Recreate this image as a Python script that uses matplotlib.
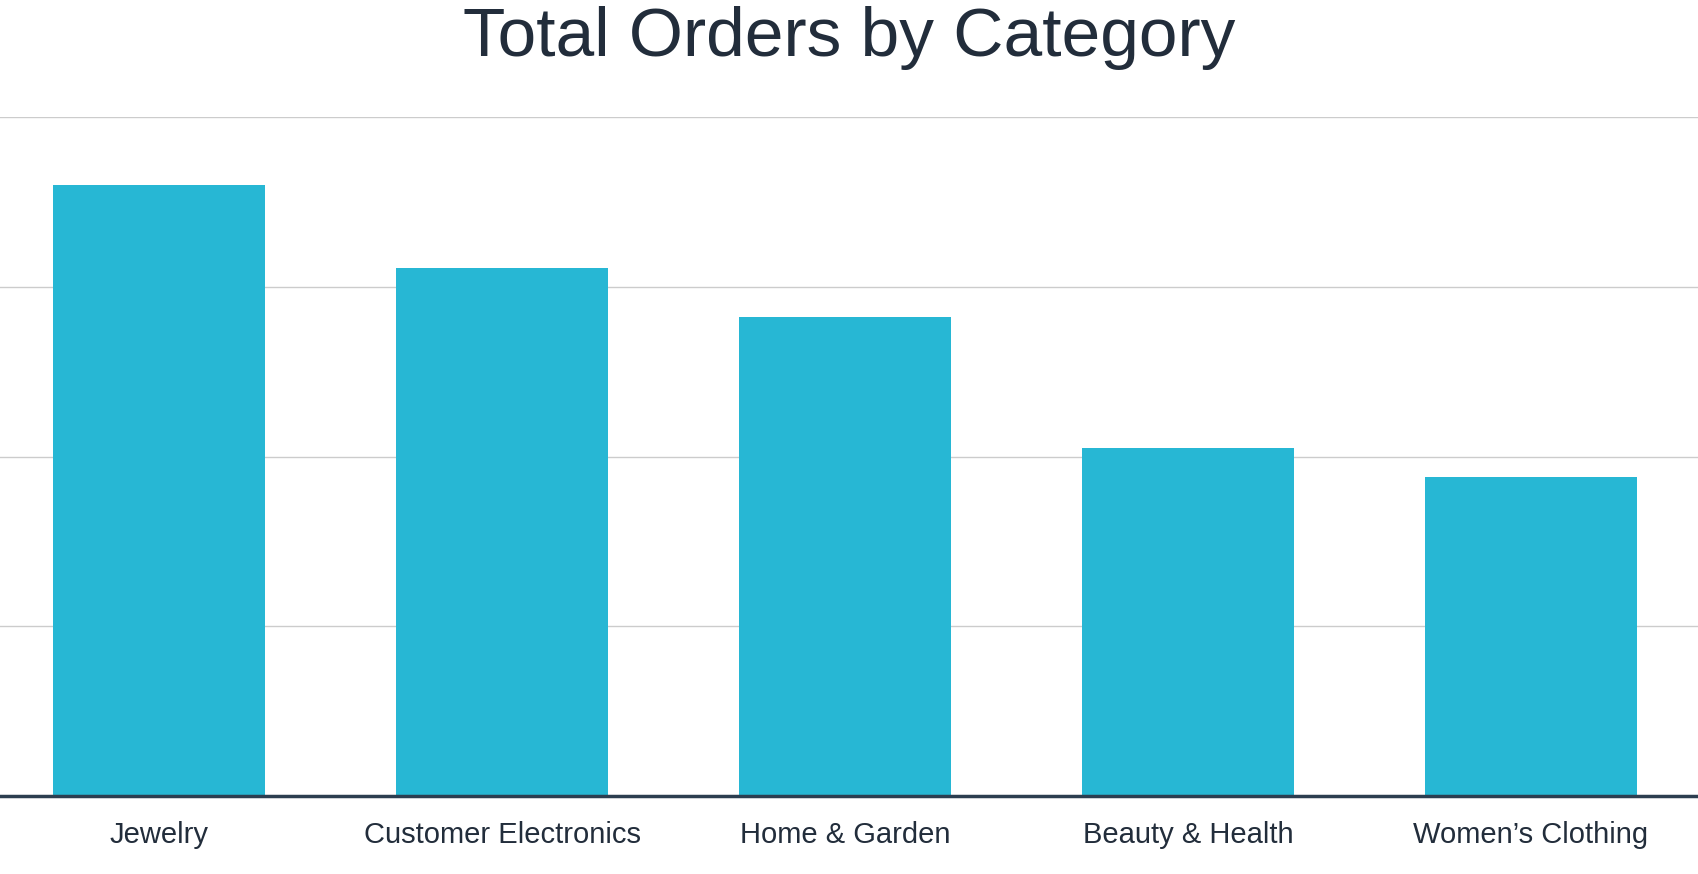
import matplotlib.pyplot as plt

categories = ["Jewelry", "Customer Electronics", "Home & Garden", "Beauty & Health", "Women\u2019s Clothing"]
orders = [360, 311, 282, 205, 188]

plt.rcParams['font.family'] = ['Liberation Sans', 'DejaVu Sans']
fig = plt.figure(figsize=(16.98, 8.74), dpi=100)
ax = fig.add_axes([0, 1 - 796 / 874, 1, (796 - 117) / 874])

ax.bar(range(len(categories)), orders, width=0.62, color='#27b7d4', zorder=2)
ax.set_xlim(-0.464, 4.487)
ax.set_ylim(0, 400)
ax.set_yticks([100, 200, 300, 400])
ax.yaxis.grid(True, color='#cccccc', lw=1, zorder=0)
ax.tick_params(axis='y', left=False, labelleft=False)
ax.set_xticks(range(len(categories)))
ax.set_xticklabels(categories, fontsize=21, color='#222d3b')
ax.tick_params(axis='x', length=0, pad=18)
for s in ['top', 'left', 'right']:
    ax.spines[s].set_visible(False)
ax.spines['bottom'].set_color('#2c3e50')
ax.spines['bottom'].set_linewidth(2.5)
ax.spines['bottom'].set_zorder(3)

fig.text(0.5, 1 - 38 / 874, "Total Orders by Category", ha='center', va='center',
         fontsize=50, color='#222d3b')

fig.savefig('out.png', dpi=100)
